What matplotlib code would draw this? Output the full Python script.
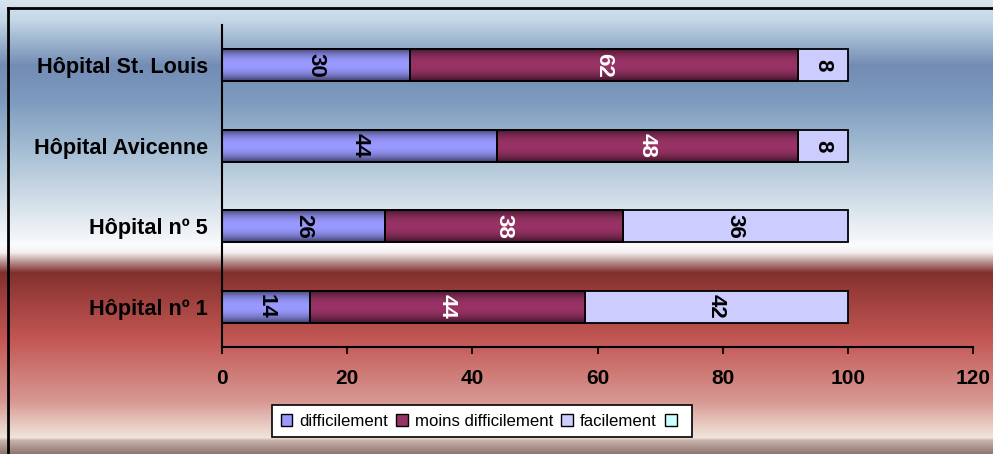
import numpy as np
import matplotlib
matplotlib.use("Agg")
import matplotlib.pyplot as plt
from matplotlib.patches import Patch

categories = ["Hôpital nº 1", "Hôpital nº 5", "Hôpital Avicenne", "Hôpital St. Louis"]
difficilement = [14, 26, 44, 30]
moins_difficilement = [44, 38, 48, 62]
facilement = [42, 36, 8, 8]
series_names = ["difficilement", "moins difficilement", "facilement", ""]
xticks = [0, 20, 40, 60, 80, 100, 120]

W, H = 993, 454
fig = plt.figure(figsize=(W / 100, H / 100), dpi=100)

# background gradient
bg = fig.add_axes([0, 0, 1, 1], zorder=-10)
stops = [
    (0, (215, 228, 238)), (20, (195, 215, 230)), (65, (115, 140, 180)),
    (100, (125, 155, 190)), (150, (165, 190, 212)), (200, (210, 222, 232)),
    (245, (250, 251, 252)), (252, (245, 238, 238)), (262, (180, 140, 140)),
    (272, (130, 48, 45)), (300, (160, 65, 62)), (340, (195, 88, 85)),
    (370, (205, 120, 115)), (400, (215, 150, 145)), (425, (232, 205, 195)),
    (437, (240, 228, 218)), (440, (200, 180, 172)), (447, (170, 145, 140)),
    (454, (140, 115, 110)),
]
ys = np.arange(H)
cols = np.zeros((H, 3))
sy = np.array([s[0] for s in stops])
for c in range(3):
    cols[:, c] = np.interp(ys, sy, [s[1][c] for s in stops]) / 255.0
img = np.repeat(cols[:, None, :], 2, axis=1)
bg.imshow(img, aspect="auto", extent=[0, 1, 0, 1], origin="upper")
bg.set_xlim(0, 1)
bg.set_ylim(0, 1)
bg.axis("off")
# border (top and left)
bg.plot([8 / W, 8 / W], [0, 1 - 8 / H], color="black", lw=2)
bg.plot([8 / W, 1], [1 - 8 / H, 1 - 8 / H], color="black", lw=2)

ax = fig.add_axes([222 / W, 1 - 347 / H, (973 - 222) / W, (347 - 25) / H])
ax.patch.set_alpha(0)

y = np.arange(len(categories))
h = 0.4
c1 = "#9999ff"
c2 = "#993366"
c3 = "#ccccff"
c4 = "#ccffff"

left = np.zeros(len(categories))
series = [(difficilement, c1, "black", True), (moins_difficilement, c2, "white", True),
          (facilement, c3, "black", False)]

grad = np.linspace(0, 1, 64)

for vals, col, tcol, shaded in series:
    bars = ax.barh(y, vals, height=h, left=left, color=col, edgecolor="black", lw=1.3, zorder=2)
    for b, v in zip(bars, vals):
        x0, y0 = b.get_x(), b.get_y()
        bw, bh = b.get_width(), b.get_height()
        if shaded:
            base = np.array(matplotlib.colors.to_rgb(col))
            t = np.abs(grad - 0.5) * 2
            fac = 1 - 0.6 * t ** 2.2
            g = base[None, :] * fac[:, None]
            gimg = np.repeat(g[:, None, :], 2, axis=1)
            im = ax.imshow(gimg, extent=[x0, x0 + bw, y0, y0 + bh], aspect="auto",
                           zorder=2.5, origin="lower")
            im.set_clip_path(b)
            ax.add_patch(plt.Rectangle((x0, y0), bw, bh, fill=False, edgecolor="black",
                                       lw=1.3, zorder=3))
        ax.text(x0 + bw / 2, y0 + bh / 2, str(v), rotation=270, ha="center", va="center",
                color=tcol, fontsize=16, fontweight="bold", family="Liberation Sans",
                zorder=4)
    left = left + np.array(vals)

ax.set_xlim(0, 120)
ax.set_ylim(-0.5, 3.5)
ax.set_xticks(xticks)
ax.set_xticklabels([str(t) for t in xticks], fontsize=15, fontweight="bold",
                   family=["Liberation Sans Narrow", "Liberation Sans"])
ax.set_yticks(y)
ax.set_yticklabels(categories, fontsize=15.6, fontweight="bold", family="Liberation Sans")
ax.tick_params(axis="x", direction="out", length=5, width=1.3, pad=11, colors="black")
ax.tick_params(axis="y", length=0, pad=10)
for s in ["top", "right"]:
    ax.spines[s].set_visible(False)
for s in ["left", "bottom"]:
    ax.spines[s].set_linewidth(1.5)
    ax.spines[s].set_color("black")

handles = [Patch(facecolor=c, edgecolor="black", lw=1) for c in [c1, c2, c3, c4]]
leg = fig.legend(handles, series_names, loc="center", bbox_to_anchor=(482 / W, 1 - 421 / H),
                 ncol=4, frameon=True, fancybox=False, edgecolor="black",
                 prop={"family": "Liberation Sans", "size": 12.1},
                 handlelength=0.7, handleheight=0.7, handletextpad=0.4, columnspacing=0.5,
                 borderpad=0.5, borderaxespad=0)
leg.get_frame().set_linewidth(1.2)
leg.get_frame().set_alpha(1)

fig.savefig("out.png", dpi=100)
